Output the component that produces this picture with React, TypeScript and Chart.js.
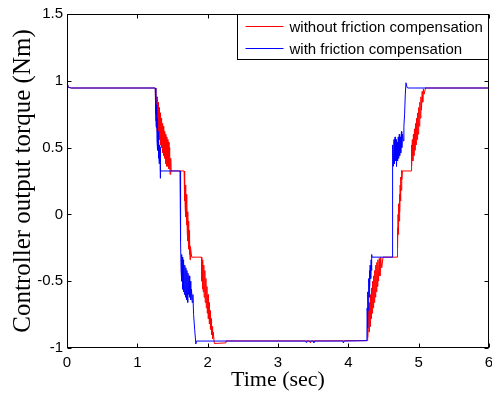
import React, { useEffect, useRef } from "react";
import { Chart, registerables } from "chart.js";

Chart.register(...registerables);

const xTicks = [0, 1, 2, 3, 4, 5, 6];
const xTickLabels = ["0", "1", "2", "3", "4", "5", "6"];
const yTicks = [-1, -0.5, 0, 0.5, 1, 1.5];
const yTickLabels = ["-1", "-0.5", "0", "0.5", "1", "1.5"];
const seriesLabels = ["without friction compensation", "with friction compensation"];
const seriesColors = ["#ff0000", "#0000ff"];
const xTitle = "Time (sec)";
const yTitle = "Controller output torque (Nm)";

// [time (sec), torque (Nm)] samples
const redSamples: [number, number][] = [
  [0, 0.97], [0.01, 0.955], [0.03, 0.95], [0.06, 0.946], [1.255, 0.946],
  [1.26, 0.7], [1.265, 0.92], [1.27, 0.66], [1.28, 0.88], [1.285, 0.62],
  [1.295, 0.84], [1.3, 0.6], [1.31, 0.8], [1.315, 0.56], [1.325, 0.76],
  [1.33, 0.52], [1.34, 0.72], [1.345, 0.5], [1.355, 0.68], [1.36, 0.46],
  [1.37, 0.66], [1.375, 0.44], [1.385, 0.62], [1.39, 0.42], [1.4, 0.6],
  [1.405, 0.38], [1.415, 0.58], [1.42, 0.36], [1.43, 0.56], [1.435, 0.36],
  [1.445, 0.54], [1.45, 0.34], [1.46, 0.5], [1.465, 0.3], [1.475, 0.42],
  [1.48, 0.325], [1.665, 0.325],
  [1.67, 0.1], [1.675, 0.28], [1.68, 0.05], [1.685, 0.22], [1.69, -0.02],
  [1.695, 0.15], [1.7, -0.08], [1.705, 0.08], [1.71, -0.14], [1.715, 0.02],
  [1.72, -0.2], [1.725, -0.05], [1.73, -0.26], [1.735, -0.12], [1.74, -0.3],
  [1.745, -0.18], [1.75, -0.34], [1.755, -0.24], [1.773, -0.32], [1.912, -0.32],
  [1.917, -0.5], [1.922, -0.36], [1.927, -0.56], [1.932, -0.34], [1.937, -0.58],
  [1.945, -0.38], [1.95, -0.62], [1.96, -0.42], [1.965, -0.66], [1.975, -0.48],
  [1.98, -0.7], [1.99, -0.54], [1.995, -0.74], [2.005, -0.6], [2.01, -0.78],
  [2.02, -0.66], [2.025, -0.82], [2.035, -0.72], [2.04, -0.86], [2.05, -0.78],
  [2.055, -0.9], [2.065, -0.84], [2.07, -0.93], [2.08, -0.88], [2.094, -0.966],
  [2.25, -0.962], [2.26, -0.947], [3.45, -0.947], [3.46, -0.962], [3.47, -0.947],
  [4.266, -0.945],
  [4.272, -0.8], [4.278, -0.92], [4.288, -0.72], [4.294, -0.88], [4.3, -0.66],
  [4.31, -0.84], [4.315, -0.6], [4.325, -0.78], [4.33, -0.55], [4.34, -0.74],
  [4.345, -0.5], [4.355, -0.7], [4.36, -0.46], [4.37, -0.66], [4.375, -0.42],
  [4.385, -0.62], [4.39, -0.38], [4.4, -0.58], [4.405, -0.36], [4.415, -0.54],
  [4.42, -0.34], [4.43, -0.5], [4.44, -0.33], [4.45, -0.46], [4.46, -0.32],
  [4.475, -0.4], [4.493, -0.32], [4.692, -0.32],
  [4.697, -0.1], [4.702, -0.25], [4.707, 0.0], [4.712, -0.15], [4.717, 0.08],
  [4.722, -0.05], [4.727, 0.15], [4.732, 0.02], [4.737, 0.22], [4.742, 0.1],
  [4.747, 0.28], [4.752, 0.18], [4.757, 0.33], [4.762, 0.26], [4.768, 0.325],
  [4.891, 0.325],
  [4.896, 0.52], [4.902, 0.36], [4.91, 0.56], [4.917, 0.4], [4.925, 0.6],
  [4.932, 0.44], [4.94, 0.64], [4.947, 0.48], [4.955, 0.68], [4.962, 0.52],
  [4.97, 0.72], [4.977, 0.56], [4.985, 0.76], [4.992, 0.6], [5.0, 0.8],
  [5.008, 0.66], [5.016, 0.84], [5.024, 0.72], [5.032, 0.88], [5.04, 0.78],
  [5.05, 0.92], [5.058, 0.84], [5.068, 0.94], [5.078, 0.9], [5.1, 0.95],
  [5.11, 0.946], [6, 0.946],
];

const blueSamples: [number, number][] = [
  [0, 0.97], [0.01, 0.955], [0.03, 0.95], [0.06, 0.946], [1.255, 0.946],
  [1.26, 0.75], [1.265, 0.9], [1.27, 0.65], [1.275, 0.82], [1.28, 0.55],
  [1.285, 0.72], [1.29, 0.48], [1.295, 0.62], [1.3, 0.42], [1.305, 0.56],
  [1.31, 0.38], [1.315, 0.52], [1.32, 0.4], [1.325, 0.5], [1.327, 0.27],
  [1.329, 0.325], [1.607, 0.325],
  [1.612, 0.0], [1.617, -0.2], [1.622, -0.42], [1.628, -0.3], [1.634, -0.5],
  [1.64, -0.32], [1.645, -0.56], [1.65, -0.34], [1.655, -0.58], [1.66, -0.36],
  [1.67, -0.6], [1.675, -0.38], [1.685, -0.62], [1.69, -0.4], [1.7, -0.64],
  [1.705, -0.42], [1.715, -0.66], [1.72, -0.44], [1.73, -0.6], [1.735, -0.46],
  [1.745, -0.62], [1.75, -0.5], [1.76, -0.64], [1.77, -0.56], [1.78, -0.66],
  [1.79, -0.6], [1.8, -0.75], [1.815, -0.86], [1.832, -0.97], [1.84, -0.948],
  [3.39, -0.948], [3.4, -0.958], [3.41, -0.948], [3.5, -0.948], [3.51, -0.96],
  [3.52, -0.948], [3.92, -0.948], [3.93, -0.962], [3.94, -0.948], [4.264, -0.945],
  [4.268, -0.7], [4.273, -0.85], [4.278, -0.58], [4.284, -0.72], [4.29, -0.48],
  [4.295, -0.62], [4.3, -0.42], [4.305, -0.54], [4.31, -0.38], [4.318, -0.48],
  [4.324, -0.34], [4.33, -0.42], [4.334, -0.3], [4.337, -0.32], [4.621, -0.32],
  [4.623, 0.4], [4.63, 0.34], [4.635, 0.52], [4.64, 0.36], [4.65, 0.56],
  [4.655, 0.38], [4.665, 0.58], [4.67, 0.4], [4.68, 0.56], [4.685, 0.36],
  [4.695, 0.54], [4.7, 0.4], [4.71, 0.58], [4.715, 0.42], [4.725, 0.6],
  [4.73, 0.44], [4.74, 0.58], [4.745, 0.46], [4.755, 0.62], [4.76, 0.5],
  [4.77, 0.6], [4.78, 0.55], [4.79, 0.66], [4.8, 0.75], [4.81, 0.9],
  [4.82, 0.985], [4.835, 0.95], [4.85, 0.946], [6, 0.946],
];

const serif = "'Liberation Serif', 'Times New Roman', serif";
const sans = "'Liberation Sans', Arial, sans-serif";

const framePlugin = {
  id: "matlabFrame",
  afterDatasetsDraw(chart: any) {
    const { ctx, chartArea: a, scales } = chart;
    const L = Math.round(a.left) + 0.5;
    const R = Math.round(a.right) - 0.5;
    const T = Math.round(a.top) + 0.5;
    const B = Math.round(a.bottom) - 0.5;
    ctx.save();
    ctx.strokeStyle = "#000";
    ctx.lineWidth = 1;
    ctx.strokeRect(L, T, R - L, B - T);
    ctx.beginPath();
    const tl = 4;
    xTicks.forEach((v) => {
      const px = Math.round(scales.x.getPixelForValue(v)) + 0.5;
      ctx.moveTo(px, B);
      ctx.lineTo(px, B - tl);
      ctx.moveTo(px, T);
      ctx.lineTo(px, T + tl);
    });
    yTicks.forEach((v) => {
      const py = Math.round(scales.y.getPixelForValue(v)) + 0.5;
      ctx.moveTo(L, py);
      ctx.lineTo(L + tl, py);
      ctx.moveTo(R, py);
      ctx.lineTo(R - tl, py);
    });
    ctx.stroke();

    // legend box (top-right, MATLAB style)
    const bw = 251;
    const bh = 45;
    const bx = Math.round(a.right) - bw - 0.5;
    const by = T;
    ctx.fillStyle = "#fff";
    ctx.fillRect(bx, by, bw, bh);
    ctx.strokeRect(bx, by, bw, bh);
    ctx.font = `15px ${sans}`;
    ctx.textBaseline = "middle";
    ctx.textAlign = "left";
    const rows = [11.5, 33];
    chart.data.datasets.forEach((ds: any, i: number) => {
      const y = Math.round(by + rows[i]) + 0.5;
      ctx.strokeStyle = ds.borderColor;
      ctx.beginPath();
      ctx.moveTo(bx + 8, y);
      ctx.lineTo(bx + 46, y);
      ctx.stroke();
      ctx.fillStyle = "#000";
      ctx.fillText(ds.label, bx + 52, y + 1);
    });
    ctx.restore();
  },
};

export default function App() {
  const ref = useRef<HTMLCanvasElement | null>(null);
  useEffect(() => {
    if (!ref.current) return;
    const toPts = (s: [number, number][]) => s.map(([x, y]) => ({ x, y }));
    const chart = new Chart(ref.current, {
      type: "line",
      data: {
        datasets: [
          {
            label: seriesLabels[0],
            data: toPts(redSamples),
            borderColor: seriesColors[0],
            borderWidth: 1,
            pointRadius: 0,
            tension: 0,
            order: 1,
          },
          {
            label: seriesLabels[1],
            data: toPts(blueSamples),
            borderColor: seriesColors[1],
            borderWidth: 1,
            pointRadius: 0,
            tension: 0,
            order: 0,
          },
        ],
      },
      options: {
        responsive: false,
        animation: false,
        events: [],
        layout: { padding: { top: 14, right: 3, left: 0, bottom: 0 } },
        plugins: { legend: { display: false }, tooltip: { enabled: false } },
        scales: {
          x: {
            type: "linear",
            min: 0,
            max: 6,
            grid: { display: false, drawTicks: false },
            border: { display: false },
            afterBuildTicks: (s: any) => {
              s.ticks = xTicks.map((v) => ({ value: v }));
            },
            afterFit: (s: any) => {
              s.height = 45;
              s.paddingLeft = 0;
              s.paddingRight = 0;
            },
            ticks: {
              autoSkip: false,
              maxRotation: 0,
              padding: 6,
              color: "#000",
              font: { family: sans, size: 15 },
              callback: (_v: any, i: number) => xTickLabels[i],
            },
            title: {
              display: true,
              text: xTitle,
              color: "#000",
              font: { family: serif, size: 22 },
              padding: { top: 0, bottom: 0 },
            },
          },
          y: {
            type: "linear",
            min: -1,
            max: 1.5,
            grid: { display: false, drawTicks: false },
            border: { display: false },
            afterBuildTicks: (s: any) => {
              s.ticks = yTicks.map((v) => ({ value: v }));
            },
            afterFit: (s: any) => {
              s.width = 67;
              s.paddingTop = 0;
              s.paddingBottom = 0;
            },
            ticks: {
              autoSkip: false,
              padding: 4,
              color: "#000",
              font: { family: sans, size: 15 },
              callback: (_v: any, i: number) => yTickLabels[i],
            },
            title: {
              display: true,
              text: yTitle,
              color: "#000",
              font: { family: serif, size: 25 },
              padding: { top: 8, bottom: 0 },
            },
          },
        },
      },
      plugins: [framePlugin],
    });
    return () => chart.destroy();
  }, []);
  return (
    <div style={{ position: "absolute", left: 0, top: 0, width: 492, height: 393, background: "#fff" }}>
      <canvas ref={ref} width={492} height={393} style={{ width: 492, height: 393, display: "block" }} />
    </div>
  );
}
